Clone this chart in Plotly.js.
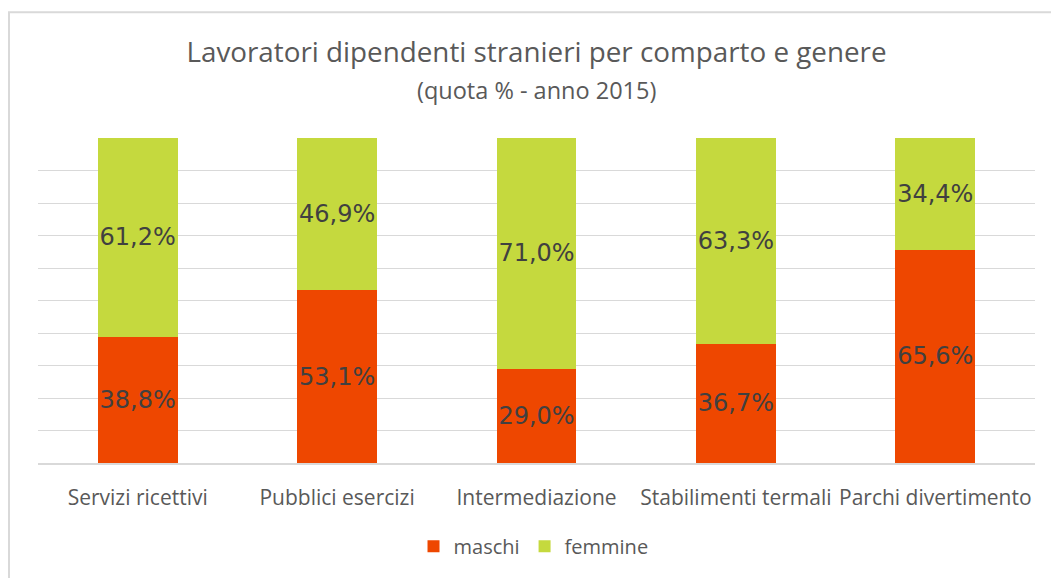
<!DOCTYPE html>
<html>
<head>
<meta charset="utf-8">
<script src="https://cdn.plot.ly/plotly-3.0.1.min.js"></script>
<style>html,body{margin:0;padding:0;background:#fff;}#chart{width:1051px;height:578px;}</style>
</head>
<body>
<div id="chart"></div>
<script>
const categories = ["Servizi ricettivi", "Pubblici esercizi", "Intermediazione", "Stabilimenti termali", "Parchi divertimento"];
const maschi = [38.8, 53.1, 29.0, 36.7, 65.6];
const femmine = [61.2, 46.9, 71.0, 63.3, 34.4];
const seriesNames = ["maschi", "femmine"];
const fmt = v => v.toFixed(1).replace('.', ',') + '%';

const labelFont = {family: "DejaVu Sans, Verdana, sans-serif", size: 24, color: "#404040"};
const uiFont = "Open Sans, Noto Sans, sans-serif";

const traces = [
  {type: 'bar', name: seriesNames[0], x: categories, y: maschi, text: maschi.map(fmt),
   marker: {color: '#EE4700'}, textposition: 'inside', insidetextanchor: 'middle', textangle: 0,
   constraintext: 'none', textfont: labelFont, hoverinfo: 'x+y'},
  {type: 'bar', name: seriesNames[1], x: categories, y: femmine, text: femmine.map(fmt),
   marker: {color: '#C5D93E'}, textposition: 'inside', insidetextanchor: 'middle', textangle: 0,
   constraintext: 'none', textfont: labelFont, hoverinfo: 'x+y'}
];

const layout = {
  width: 1051, height: 578,
  margin: {l: 38, r: 16, t: 138, b: 112},
  paper_bgcolor: '#ffffff', plot_bgcolor: '#ffffff',
  barmode: 'stack', bargap: 0.6,
  title: {text: 'Lavoratori dipendenti stranieri per comparto e genere',
          font: {family: uiFont, size: 27.8, color: '#595959'},
          x: 0.5, xref: 'paper', xanchor: 'center', y: 1 - 52 / 578, yref: 'container', yanchor: 'middle'},
  annotations: [{text: '(quota % - anno 2015)', xref: 'paper', yref: 'paper', x: 0.5, y: 1 + (138 - 90) / 328,
                 xanchor: 'center', yanchor: 'middle', showarrow: false,
                 font: {family: uiFont, size: 23.5, color: '#595959'}}],
  xaxis: {showline: true, linecolor: '#d9d9d9', linewidth: 2, ticks: '', showgrid: false,
          ticklabelstandoff: 15,
          tickfont: {family: uiFont, size: 21, color: '#595959'}, fixedrange: true},
  yaxis: {range: [0, 100], dtick: 10, showgrid: true, gridcolor: '#d9d9d9', gridwidth: 1,
          showticklabels: false, zeroline: false, ticks: '', fixedrange: true},
  legend: {orientation: 'h', x: 0.497, xanchor: 'center', y: (466 - 550) / 328, yanchor: 'middle',
           font: {family: uiFont, size: 20, color: '#595959'}, traceorder: 'normal'},
  shapes: [{type: 'rect', xref: 'paper', yref: 'paper', x0: (9 - 38) / 997, x1: 1.2,
            y0: -0.6, y1: 1 + (138 - 11) / 328, line: {color: '#d9d9d9', width: 2}, layer: 'below'}],
  showlegend: true
};

Plotly.newPlot('chart', traces, layout, {displayModeBar: false, staticPlot: true});
</script>
</body>
</html>
